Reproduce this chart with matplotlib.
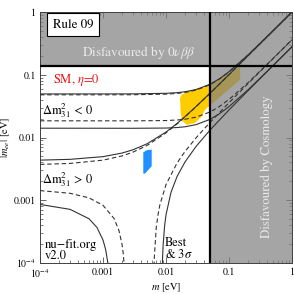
import matplotlib
matplotlib.use("Agg")
import matplotlib.pyplot as plt

plt.rcParams['font.family'] = ['STIXGeneral', 'DejaVu Serif']
plt.rcParams['mathtext.fontset'] = 'stix'

# limits drawn as thick black lines
bb_limit = 0.14      # 0vbb bound on |m_ee|
cosmo_limit = 0.05   # cosmology bound on m

# normal ordering, upper edges
m_no = [1e-4, 3e-4, 1e-3, 2e-3, 3e-3, 5e-3, 0.01, 0.015, 0.02, 0.03, 0.05, 0.07, 0.1, 0.2, 0.5, 1.0]
no_up_best = [0.003724, 0.003861, 0.004354, 0.005084, 0.00585, 0.007463, 0.011842, 0.016489,
              0.021258, 0.030967, 0.050656, 0.070489, 0.100344, 0.200148, 0.499975, 0.999838]
no_up_3s = [0.004358, 0.004487, 0.004952, 0.005647, 0.006378, 0.007933, 0.012208, 0.01679,
            0.021518, 0.031173, 0.050807, 0.070609, 0.100443, 0.200228, 0.50009, 1.0]

# normal ordering, lower edges (two branches each)
m_no_lo_best_a = [1e-4, 3e-4, 6e-4, 1e-3, 1.5e-3, 1.8e-3, 2e-3, 2.1e-3, 2.2e-3, 2.3e-3]
no_lo_best_a = [0.001426, 0.001291, 0.001092, 0.00083, 0.000511, 0.000324, 0.0002, 0.000139, 0.000077, 0.000017]
m_no_lo_best_b = [6.3e-3, 6.5e-3, 7e-3, 7.5e-3, 8e-3, 0.01, 0.015, 0.02, 0.03, 0.05, 0.1, 0.2, 0.5, 1.0]
no_lo_best_b = [0.000015, 0.000116, 0.000363, 0.000606, 0.000846, 0.001772, 0.003933, 0.00597,
                0.009875, 0.017414, 0.035796, 0.072132, 0.180725, 0.361562]
m_no_lo_3s_a = [1e-4, 3e-4, 6e-4, 8e-4, 1e-3, 1.1e-3, 1.2e-3, 1.3e-3]
no_lo_3s_a = [0.000858, 0.000716, 0.000507, 0.00037, 0.000232, 0.000165, 0.000097, 0.00003]
m_no_lo_3s_b = [8.55e-3, 8.8e-3, 9e-3, 9.5e-3, 0.01, 0.012, 0.015, 0.02, 0.03, 0.05, 0.1, 0.2, 0.5, 1.0]
no_lo_3s_b = [0.00001, 0.000113, 0.000192, 0.00039, 0.000584, 0.001334, 0.002398, 0.004066,
              0.007203, 0.013153, 0.027477, 0.055612, 0.139535, 0.279153]

# inverted ordering
m_io = [1e-4, 1e-3, 3e-3, 0.01, 0.015, 0.02, 0.03, 0.05, 0.07, 0.1, 0.2, 0.5, 1.0]
io_up_best = [0.047881, 0.04791, 0.048033, 0.049085, 0.050403, 0.052157, 0.056808, 0.069527,
              0.085067, 0.11107, 0.205734, 0.502239, 1.000971]
io_lo_best = [0.018451, 0.018436, 0.018425, 0.018629, 0.019001, 0.019547, 0.02109, 0.025517,
              0.031043, 0.040368, 0.074508, 0.181687, 0.362043]
io_up_3s = [0.049449, 0.049477, 0.049592, 0.050598, 0.051872, 0.053573, 0.058107, 0.070594,
            0.085946, 0.111753, 0.206133, 0.50255, 1.001]
io_lo_3s = [0.014066, 0.014046, 0.014022, 0.014143, 0.014414, 0.014825, 0.016017, 0.019467,
            0.023769, 0.031014, 0.057444, 0.140249, 0.279525]

# SM regions
m_yellow = [0.0167, 0.0177, 0.0240, 0.0322, 0.0416, 0.150, 0.150, 0.0416, 0.0369, 0.0288, 0.0213, 0.0180, 0.0171]
ee_yellow = [0.0425, 0.0480, 0.0556, 0.0609, 0.0637, 0.133, 0.0832, 0.0277, 0.0216, 0.0170, 0.0159, 0.0185, 0.0245]
m_blue = [0.00436, 0.0050, 0.00593, 0.00593, 0.00464, 0.00436]
ee_blue = [0.0058, 0.0063, 0.0064, 0.0035, 0.00266, 0.00266]

x_ticks = [1e-4, 1e-3, 1e-2, 1e-1, 1]
x_labels = ['$10^{-4}$', '0.001', '0.01', '0.1', '1']
y_ticks = [1e-4, 1e-3, 1e-2, 1e-1, 1]
y_labels = ['$10^{-4}$', '0.001', '0.01', '0.1', '1']

fig = plt.figure(figsize=(2.94, 2.94), dpi=100)
ax = fig.add_axes([40 / 294, 1 - 263 / 294, 252 / 294, 251 / 294])
ax.set_xscale('log')
ax.set_yscale('log')
ax.set_xlim(1e-4, 1)
ax.set_ylim(1e-4, 1)

ax.fill(m_yellow, ee_yellow, color='#ffcc00', lw=0, zorder=1)
ax.fill(m_blue, ee_blue, color='#1e90ff', lw=0, zorder=1)

# disfavoured regions
gray = '#7f7f7f'
ax.axhspan(bb_limit, 1, color=gray, alpha=0.7, lw=0, zorder=2)
ax.fill_between([cosmo_limit, 1], 1e-4, bb_limit, color=gray, alpha=0.7, lw=0, zorder=2)

solid = dict(color='0.2', lw=0.8, zorder=3)
dashed = dict(color='0.2', lw=0.8, ls=(0, (4, 2.5)), zorder=3)
ax.plot(m_no, no_up_3s, **solid)
ax.plot(m_no, no_up_best, **dashed)
ax.plot(m_no_lo_3s_a, no_lo_3s_a, **solid)
ax.plot(m_no_lo_3s_b, no_lo_3s_b, **solid)
ax.plot(m_no_lo_best_a, no_lo_best_a, **dashed)
ax.plot(m_no_lo_best_b, no_lo_best_b, **dashed)
ax.plot(m_io, io_up_3s, **solid)
ax.plot(m_io, io_lo_3s, **solid)
ax.plot(m_io, io_up_best, **dashed)
ax.plot(m_io, io_lo_best, **dashed)

ax.axhline(bb_limit, color='k', lw=1.6, zorder=4)
ax.axvline(cosmo_limit, color='k', lw=1.6, zorder=4)

ax.set_xticks(x_ticks)
ax.set_xticklabels(x_labels)
ax.set_yticks(y_ticks)
ax.set_yticklabels(y_labels)
ax.tick_params(which='both', direction='in', top=True, right=True, color='0.3', labelsize=7)
ax.tick_params(which='major', length=4, width=0.6)
ax.tick_params(which='minor', length=2, width=0.5)
ax.tick_params(axis='y', pad=3)
ax.tick_params(axis='x', pad=3)
for s in ax.spines.values():
    s.set_linewidth(0.7)
    s.set_color('0.25')

ax.set_xlabel('$m$ [eV]', fontsize=7.5, labelpad=1)
ax.set_ylabel('$|m_{ee}|$ [eV]', fontsize=7.5, labelpad=1)

tr = ax.transAxes
ax.text(0.131, 0.95, 'Rule 09', transform=tr, fontsize=9.3, ha='center', va='center', zorder=6,
        bbox=dict(boxstyle='square,pad=0.45', fc='white', ec='k', lw=0.8))
ax.text(0.393, 0.837, r'Disfavoured by $0\nu\beta\beta$', transform=tr, fontsize=9.5,
        ha='center', va='center', color='#ececec', zorder=6)
ax.text(0.052, 0.729, r'SM, $\eta$=0', transform=tr, fontsize=9, ha='left', va='center',
        color='#ee1111', zorder=6)
ax.text(0.008, 0.606, r'$\Delta\mathrm{m}^2_{31}$ < 0', transform=tr, fontsize=9,
        ha='left', va='center', zorder=6)
ax.text(0.008, 0.331, r'$\Delta\mathrm{m}^2_{31}$ > 0', transform=tr, fontsize=9,
        ha='left', va='center', zorder=6)
ax.text(0.02, 0.05, 'nu\u2212fit.org\nv2.0', transform=tr, fontsize=9, ha='left', va='center',
        linespacing=0.9, zorder=6)
ax.text(0.496, 0.056, 'Best\n& 3$\\sigma$', transform=tr, fontsize=9, ha='left', va='center',
        linespacing=0.9, zorder=6)
ax.text(0.901, 0.384, 'Disfavoured by Cosmology', transform=tr, fontsize=9.3, rotation=90,
        ha='center', va='center', color='#ececec', zorder=6)

fig.savefig('out.png', dpi=100)
